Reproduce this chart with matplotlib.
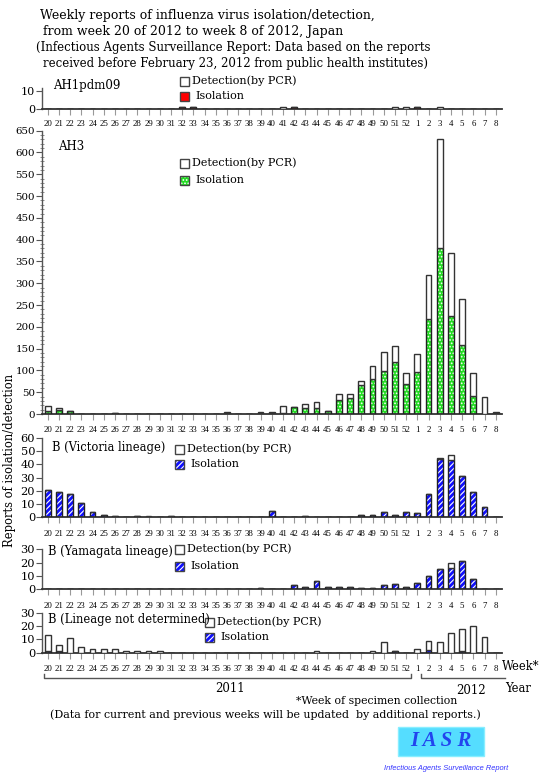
import matplotlib
matplotlib.use("Agg")
import matplotlib.pyplot as plt
from matplotlib.lines import Line2D
from matplotlib.patches import Rectangle
import numpy as np

# weeks 20-52 of 2011, 1-8 of 2012
weeks = list(range(20, 53)) + list(range(1, 9))
week_labels = [str(w) for w in weeks]

ah1_total = [0]*12 + [1, 1] + [0]*7 + [1, 1] + [0]*8 + [1, 1, 1, 0, 1] + [0]*5
ah1_iso = [0]*12 + [1, 1] + [0]*7 + [0, 1] + [0]*8 + [0, 0, 1, 0, 0] + [0]*5

ah3_total = [19, 14, 8, 1, 1, 0, 2, 0, 0, 1, 1, 0, 0, 0, 1, 0, 4, 1, 1, 4, 4,
             18, 17, 22, 27, 8, 45, 45, 75, 109, 143, 157, 94,
             138, 318, 631, 369, 265, 95, 38, 4]
ah3_iso = [7, 9, 7, 1, 1, 0, 2, 0, 0, 1, 1, 0, 0, 0, 1, 0, 3, 1, 1, 3, 3,
           3, 15, 13, 14, 6, 32, 36, 66, 80, 99, 119, 69,
           97, 219, 382, 224, 158, 41, 1, 3]

vic_total = [21, 19, 18, 11, 4, 2, 1, 0, 1, 1, 0, 1, 0, 0, 0, 0, 0, 0, 0, 0, 5,
             0, 0, 1, 0, 0, 0, 0, 2, 2, 4, 2, 4,
             3, 18, 45, 47, 31, 19, 8, 0]
vic_iso = [21, 19, 18, 11, 4, 2, 1, 0, 1, 0, 0, 1, 0, 0, 0, 0, 0, 0, 0, 0, 5,
           0, 0, 1, 0, 0, 0, 0, 2, 2, 4, 2, 4,
           3, 18, 44, 43, 31, 19, 8, 0]

yam_total = [0]*19 + [1, 0, 0, 3, 2, 6, 2, 2, 2, 1, 1, 3, 4, 2,
                      5, 10, 15, 20, 21, 8, 0, 0]
yam_iso = [0]*19 + [1, 0, 0, 3, 2, 6, 2, 2, 2, 1, 1, 3, 4, 2,
                    5, 10, 15, 16, 21, 8, 0, 0]

bnd_total = [13, 6, 11, 4, 3, 3, 3, 1, 1, 1, 1] + [0]*13 + [1, 0, 0, 0, 0, 1, 8, 1, 0,
                                                         3, 9, 8, 15, 18, 20, 12, 0]
bnd_iso = [1, 1, 0, 0, 0, 0, 0, 0, 0, 0, 0] + [0]*13 + [0, 0, 0, 0, 0, 0, 0, 1, 0,
                                                       0, 2, 0, 0, 1, 0, 0, 0]

W, H = 559, 783
SERIF = "DejaVu Serif"
plt.rcParams['font.family'] = SERIF
plt.rcParams['hatch.linewidth'] = 0.8

fig = plt.figure(figsize=(W/100, H/100), dpi=100)
fig.patch.set_facecolor('white')


def fx(x):
    return x / W


def fy(y):
    return 1 - y / H


def make_ax(top, bottom, ymax):
    ax = fig.add_axes([fx(42), fy(bottom), 460 / W, (bottom - top) / H])
    ax.set_xlim(-0.51, 40.56)
    ax.set_ylim(0, ymax)
    for s in ['top', 'right']:
        ax.spines[s].set_visible(False)
    ax.spines['bottom'].set_color('#333333')
    ax.spines['bottom'].set_linewidth(1.3)
    ax.spines['left'].set_color('#555555')
    ax.spines['left'].set_linewidth(1.0)
    ax.set_xticks(range(len(weeks)))
    ax.set_xticklabels(week_labels, fontsize=6.3, family="Liberation Serif")
    ax.tick_params(axis='x', direction='out', length=4, width=0.8,
                   color='#999999', pad=5)
    ax.tick_params(axis='y', direction='out', length=4, width=0.8,
                   color='#555555', pad=1)
    ax.patch.set_alpha(0)
    return ax


def stack(ax, total, iso, face, hatch, width=0.52):
    x = np.arange(len(total))
    iso = np.array(iso)
    det = np.array(total) - iso
    ax.bar(x, iso, width, color=face, edgecolor='white', hatch=hatch,
           linewidth=0, zorder=2)
    ax.bar(x, iso, width, color='none', edgecolor='#222222', linewidth=1.0,
           zorder=3)
    ax.bar(x, det, width, bottom=iso, color='white', edgecolor='#333333',
           linewidth=1.0, zorder=3)


def legend(x, y1, y2, face, hatch, size=8):
    # legend squares and texts, positions in pixels
    sq = 9
    fig.patches.append(Rectangle((fx(x), fy(y1 + sq/2)), sq/W, sq/H,
                                 transform=fig.transFigure, facecolor='white',
                                 edgecolor='#444444', linewidth=1.0))
    fig.patches.append(Rectangle((fx(x), fy(y2 + sq/2)), sq/W, sq/H,
                                 transform=fig.transFigure, facecolor=face,
                                 edgecolor='white', hatch=hatch, linewidth=0))
    fig.patches.append(Rectangle((fx(x), fy(y2 + sq/2)), sq/W, sq/H,
                                 transform=fig.transFigure, facecolor='none',
                                 edgecolor='#444444', linewidth=1.0))
    fig.text(fx(x + sq + 3), fy(y1), "Detection(by PCR)", fontsize=size,
             va='center', ha='left')
    fig.text(fx(x + sq + 6), fy(y2), "Isolation", fontsize=size,
             va='center', ha='left')


# title
title_lines = [
    (40, 15, "Weekly reports of influenza virus isolation/detection,", 9.0),
    (43, 32, "from week 20 of 2012 to week 8 of 2012, Japan", 9.0),
    (36, 48, "(Infectious Agents Surveillance Report: Data based on the reports", 8.5),
    (43, 63, "received before February 23, 2012 from public health institutes)", 8.5),
]
for x, y, t, s in title_lines:
    fig.text(fx(x), fy(y), t, fontsize=s, va='center', ha='left')

GREEN = '#22dd22'
BLUE = '#1010ff'
RED = '#ff0000'

# AH1pdm09
ax1 = make_ax(88, 109.3, 10 * (109.3 - 88) / (109.3 - 90.7))
stack(ax1, ah1_total, ah1_iso, RED, None)
ax1.set_yticks([0, 10])
ax1.set_yticklabels(['0', '10'], fontsize=8)
ax1.tick_params(axis='x', pad=4)
fig.text(fx(53), fy(85), "AH1pdm09", fontsize=8.5, va='center')
legend(180, 81, 96, RED, None)

# AH3
ax2 = make_ax(130.7, 414, 650)
stack(ax2, ah3_total, ah3_iso, GREEN, '.....')
ax2.set_yticks(range(0, 651, 50))
ax2.set_yticks(range(0, 651, 10), minor=True)
ax2.tick_params(axis='y', which='major', labelsize=7.4)
ax2.tick_params(axis='y', which='minor', direction='inout', length=3,
                width=0.6, color='#777777')
fig.text(fx(58), fy(147), "AH3", fontsize=8.5, va='center')
legend(180, 163, 180, GREEN, '.....')

# B Victoria
ax3 = make_ax(438, 517.3, 60)
stack(ax3, vic_total, vic_iso, BLUE, '//////')
ax3.set_yticks(range(0, 61, 10))
ax3.tick_params(axis='y', labelsize=8.2)
fig.text(fx(52), fy(448), "B (Victoria lineage)", fontsize=8.3, va='center')
legend(175, 449, 464, BLUE, '//////')

# B Yamagata
ax4 = make_ax(549.3, 589.3, 30)
stack(ax4, yam_total, yam_iso, BLUE, '//////')
ax4.set_yticks(range(0, 31, 10))
ax4.tick_params(axis='y', labelsize=8.2)
fig.text(fx(48), fy(552), "B (Yamagata lineage)", fontsize=8.3, va='center')
legend(175, 549, 566, BLUE, '//////')

# B lineage not determined
ax5 = make_ax(612.7, 652.7, 30)
stack(ax5, bnd_total, bnd_iso, BLUE, '//////')
ax5.set_yticks(range(0, 31, 10))
ax5.tick_params(axis='y', labelsize=8.2)
fig.text(fx(48), fy(620), "B (Lineage not determined)", fontsize=8.3, va='center')
legend(205, 622, 637, BLUE, '//////')

fig.text(fx(10), fy(460), "Reports of isolation/detection", fontsize=8.3,
         rotation=90, va='center', ha='center')

# bottom annotations
fig.text(fx(502), fy(667), "Week*", fontsize=8.3, va='center', ha='left')
fig.text(fx(505), fy(688), "Year", fontsize=8.3, va='center', ha='left')
for xs, ys in [([44, 44, 411, 411], [674, 678, 678, 674]),
               ([421, 421, 505], [674, 678, 678])]:
    fig.add_artist(Line2D([fx(v) for v in xs], [fy(v) for v in ys],
                          color='#555555', linewidth=1.0))
fig.text(fx(230), fy(689), "2011", fontsize=8.5, va='center', ha='center')
fig.text(fx(471), fy(690), "2012", fontsize=8.5, va='center', ha='center')
fig.text(fx(296), fy(701), "*Week of specimen collection", fontsize=7.8,
         va='center', ha='left')
fig.text(fx(50), fy(715),
         "(Data for current and previous weeks will be updated  by additional reports.)",
         fontsize=7.9, va='center', ha='left')

# IASR logo
fig.patches.append(Rectangle((fx(398), fy(756)), 86/W, 29/H,
                             transform=fig.transFigure, facecolor='#55ddff',
                             edgecolor='#88eeff', linewidth=1.0))
fig.text(fx(441), fy(741), "I A S R", fontsize=15, fontweight='bold',
         style='italic', color='#2244ee', va='center', ha='center',
         family="Liberation Serif")
fig.text(fx(446), fy(768), "Infectious Agents Surveillance Report", fontsize=5.4,
         style='italic', color='#3333ff', va='center', ha='center',
         family="Liberation Sans")

fig.savefig("out.png", dpi=100, facecolor='white')
